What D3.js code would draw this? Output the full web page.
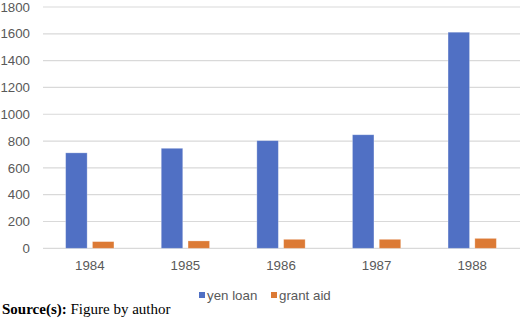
<!DOCTYPE html>
<html><head><meta charset="utf-8">
<script src="https://cdn.jsdelivr.net/npm/d3@7"></script>
<style>body{margin:0;background:#fff}svg{display:block}</style>
</head><body>
<svg id="c" width="520" height="321"></svg>
<script>
const years = ["1984","1985","1986","1987","1988"];
const yenLoan = [712, 746, 803, 847, 1612];
const grantAid = [50, 55, 67, 67, 74];
const seriesNames = ["yen loan","grant aid"];
const seriesColors = ["#5070c4","#dc7a35"];
const yTicks = [0,200,400,600,800,1000,1200,1400,1600,1800];

(function(){
const svg = d3.select("#c");
const mLeft = 42, mRight = 520, mTop = 7, mBottom = 248.3;
const gridLeft = 43;
const x = d3.scaleBand().domain(years).range([mLeft, mRight]).paddingInner(0).paddingOuter(0);
const y = d3.scaleLinear().domain([0,1800]).range([mBottom, mTop]);
const bw = 21.5, gap = 5.3;

svg.append("g").selectAll("line").data(yTicks).join("line")
  .attr("x1", gridLeft).attr("x2", mRight)
  .attr("y1", d=>y(d)).attr("y2", d=>y(d))
  .attr("stroke","#d9d9d9").attr("stroke-width",1.2);

svg.append("g").selectAll("text").data(yTicks).join("text")
  .attr("x", 30).attr("y", d=>y(d)).attr("dy","0.35em")
  .attr("text-anchor","end")
  .attr("font-family","Liberation Sans, Arial, sans-serif").attr("font-size",13.3)
  .attr("fill","#595959").text(d=>d);

const series = [yenLoan, grantAid];
series.forEach((vals, si) => {
  svg.append("g").selectAll("rect").data(years).join("rect")
    .attr("x", d => x(d) + x.bandwidth()/2 - (bw*2+gap)/2 + si*(bw+gap))
    .attr("width", bw)
    .attr("y", (d,i) => y(vals[i]))
    .attr("height", (d,i) => mBottom - y(vals[i]))
    .attr("fill", seriesColors[si])
    .attr("stroke", "#ffffff").attr("stroke-opacity",0.35).attr("stroke-width",0.8);
});

svg.append("g").selectAll("text").data(years).join("text")
  .attr("x", d => x(d) + x.bandwidth()/2).attr("y", 265).attr("dy","0.35em")
  .attr("text-anchor","middle")
  .attr("font-family","Liberation Sans, Arial, sans-serif").attr("font-size",13.3)
  .attr("fill","#595959").text(d=>d);

const legX = [199, 271];
seriesNames.forEach((n,i) => {
  svg.append("rect").attr("x", legX[i]).attr("y", 292).attr("width",6).attr("height",6)
    .attr("fill", seriesColors[i]);
  svg.append("text").attr("x", legX[i]+8).attr("y", 295).attr("dy","0.35em")
    .attr("font-family","Liberation Sans, Arial, sans-serif").attr("font-size",13.3)
    .attr("fill","#595959").text(n);
});

const src = svg.append("text").attr("x",2).attr("y",314)
  .attr("font-family","Liberation Serif, Times New Roman, serif").attr("font-size",15).attr("fill","#000");
src.append("tspan").attr("font-weight","bold").text("Source(s):");
src.append("tspan").text(" Figure by author");
})();
</script>
</body></html>
